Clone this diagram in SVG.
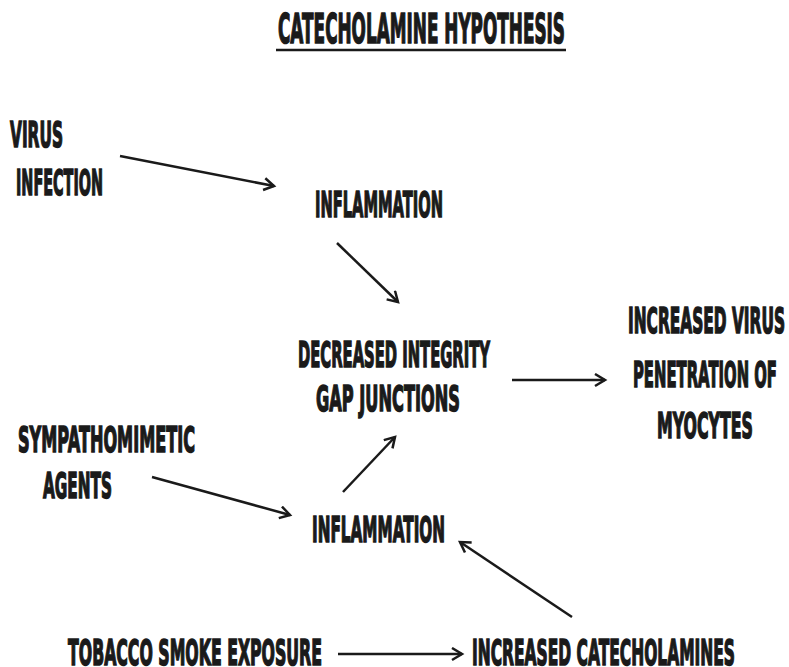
<svg xmlns="http://www.w3.org/2000/svg" width="789" height="667" viewBox="0 0 789 667">
<defs>
<style>
text{font-family:"DejaVu Sans","Liberation Sans",sans-serif;font-weight:bold;font-size:36px;fill:#1a1a1a;stroke:#1a1a1a;stroke-width:1.3;vector-effect:non-scaling-stroke}
.title{font-size:41px}
.c line{stroke:#1a1a1a;stroke-width:2.5;marker-end:url(#ah)}
</style>
<marker id="ah" markerUnits="userSpaceOnUse" markerWidth="16" markerHeight="16" refX="11" refY="7" orient="auto">
<path d="M1,1 L11,7 L1,13" fill="none" stroke="#1a1a1a" stroke-width="2.5"/>
</marker>
</defs>
<rect width="789" height="667" fill="#fff"/>
<g id="title">
<text class="title" transform="translate(278 43) scale(0.409 1)" textLength="701.7" lengthAdjust="spacingAndGlyphs">CATECHOLAMINE HYPOTHESIS</text>
<line x1="276" y1="50" x2="566" y2="50" stroke="#1a1a1a" stroke-width="2.5"/>
</g>
<g id="virus">
<text transform="translate(10 147) scale(0.427 1)" textLength="124.1" lengthAdjust="spacingAndGlyphs">VIRUS</text>
<text transform="translate(16 195) scale(0.399 1)" textLength="218" lengthAdjust="spacingAndGlyphs">INFECTION</text>
</g>
<g id="inflammation1">
<text transform="translate(315 217) scale(0.404 1)" textLength="316.8" lengthAdjust="spacingAndGlyphs">INFLAMMATION</text>
</g>
<g id="decreased">
<text transform="translate(298 367) scale(0.410 1)" textLength="468.3" lengthAdjust="spacingAndGlyphs">DECREASED INTEGRITY</text>
<text transform="translate(316 411) scale(0.450 1)" textLength="320" lengthAdjust="spacingAndGlyphs">GAP JUNCTIONS</text>
</g>
<g id="increasedvirus">
<text transform="translate(628 333) scale(0.428 1)" textLength="366.8" lengthAdjust="spacingAndGlyphs">INCREASED VIRUS</text>
<text transform="translate(633 387) scale(0.409 1)" textLength="352.1" lengthAdjust="spacingAndGlyphs">PENETRATION OF</text>
<text transform="translate(657 438) scale(0.436 1)" textLength="220.2" lengthAdjust="spacingAndGlyphs">MYOCYTES</text>
</g>
<g id="sympatho">
<text transform="translate(18 452) scale(0.441 1)" textLength="401.4" lengthAdjust="spacingAndGlyphs">SYMPATHOMIMETIC</text>
<text transform="translate(43 498) scale(0.424 1)" textLength="162.7" lengthAdjust="spacingAndGlyphs">AGENTS</text>
</g>
<g id="inflammation2">
<text transform="translate(312 542) scale(0.419 1)" textLength="317.4" lengthAdjust="spacingAndGlyphs">INFLAMMATION</text>
</g>
<g id="tobacco">
<text transform="translate(68 665) scale(0.437 1)" textLength="581.2" lengthAdjust="spacingAndGlyphs">TOBACCO SMOKE EXPOSURE</text>
</g>
<g id="catecholamines">
<text transform="translate(472 665) scale(0.428 1)" textLength="614.5" lengthAdjust="spacingAndGlyphs">INCREASED CATECHOLAMINES</text>
</g>
<g id="connectors" class="c">
<line x1="120" y1="156" x2="274" y2="186"/>
<line x1="337" y1="243" x2="398" y2="302"/>
<line x1="512" y1="380" x2="605" y2="380"/>
<line x1="152" y1="477" x2="290" y2="515"/>
<line x1="343" y1="492" x2="395" y2="437"/>
<line x1="572" y1="617" x2="460" y2="542"/>
<line x1="338" y1="654" x2="462" y2="654"/>
</g>
</svg>
